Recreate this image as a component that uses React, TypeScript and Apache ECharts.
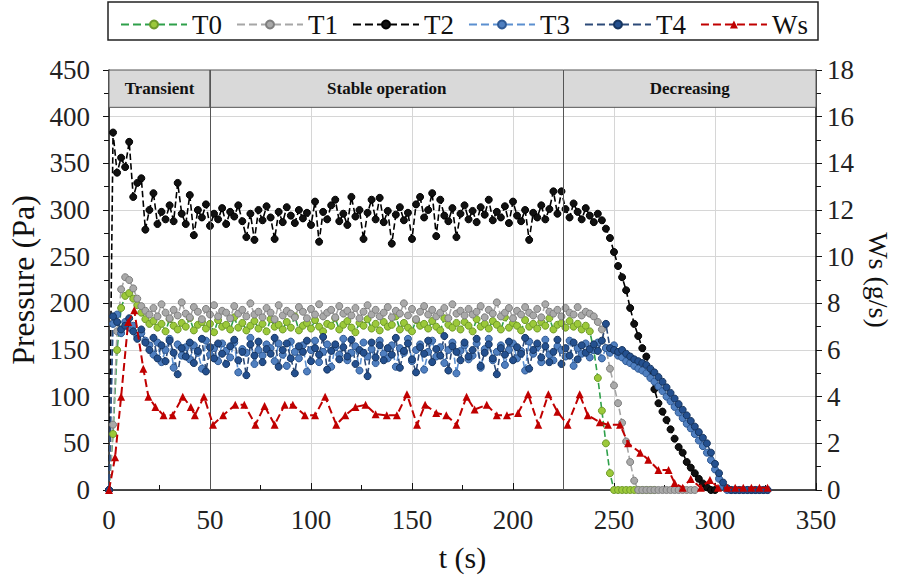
import React, { useEffect, useRef } from "react";
import * as echarts from "echarts";

// sampling step of the pressure records (s)
const STEP = 2;

// T0 pressure (Pa), one value every 2 s from t = 0
const t0Values = [
  0, 60, 150, 195, 208, 211, 205, 198, 190, 183,
  178, 181, 174, 178, 170, 183, 176, 172, 179, 175,
  184, 171, 177, 180, 173, 178, 169, 182, 175, 177,
  172, 185, 174, 179, 171, 176, 181, 173, 178, 170,
  183, 175, 177, 172, 180, 174, 186, 171, 176, 179,
  173, 182, 175, 170, 178, 176, 184, 172, 177, 181,
  174, 169, 179, 176, 183, 173, 178, 171, 180, 175,
  177, 186, 172, 179, 174, 170, 182, 176, 178, 173,
  181, 175, 171, 184, 177, 174, 179, 172, 180, 176,
  170, 183, 175, 178, 173, 181, 177, 172, 185, 174,
  179, 176, 171, 182, 175, 178, 173, 180, 176, 184,
  172, 177, 179, 174, 181, 175, 178, 172, 176, 170,
  150, 120, 85, 50, 18, 0, 0, 0, 0, 0,
  0, 0, 0, 0, 0, 0,
];

// T1 pressure (Pa)
const t1Values = [
  0, 70, 170, 215, 228, 225, 216, 205, 197, 192,
  188, 195, 186, 199, 190, 184, 193, 187, 201, 189,
  185, 196, 191, 183, 194, 188, 198, 186, 192, 190,
  184, 197, 189, 193, 186, 200, 188, 191, 185, 195,
  190, 183, 198, 187, 192, 189, 185, 196, 191, 184,
  194, 188, 199, 186, 190, 193, 185, 197, 189, 192,
  187, 195, 184, 191, 198, 188, 193, 186, 190, 196,
  185, 192, 189, 200, 187, 194, 183, 191, 197, 188,
  193, 186, 190, 195, 184, 199, 189, 192, 187, 194,
  188, 191, 197, 185, 193, 189, 201, 186, 190, 195,
  184, 192, 188, 196, 190, 187, 194, 185, 199, 191,
  189, 193, 186, 195, 190, 188, 196, 187, 191, 189,
  186, 180, 172, 152, 130, 112, 93, 72, 52, 30,
  10, 0, 0, 0, 0, 0, 0, 0, 0, 0,
  0, 0, 0, 0, 0, 0,
];

// T2 pressure (Pa)
const t2Values = [
  0, 383, 340, 356, 346, 373, 314, 329, 334, 279,
  300, 318, 285, 298, 290, 305, 288, 329, 296, 285,
  316, 273, 300, 292, 306, 283, 296, 290, 302, 285,
  298, 293, 305, 288, 271, 296, 268, 300, 289, 304,
  292, 269, 298, 287, 303, 294, 286, 300, 291, 297,
  284, 309, 266, 298, 290, 305, 311, 288, 296, 284,
  314, 293, 300, 269, 297, 311, 290, 313, 287, 299,
  264, 295, 303, 289, 297, 269, 306, 314, 292, 300,
  318, 272, 311, 294, 288, 302, 271, 296, 305, 290,
  299, 287, 303, 295, 311, 289, 298, 292, 304, 286,
  309, 294, 288, 300, 268, 297, 292, 305, 290, 301,
  320, 296, 320, 301, 292, 307, 298, 290, 302, 294,
  287, 296, 289, 280, 270, 255, 240, 228, 214, 195,
  178, 165, 152, 143, 128, 108, 93, 84, 75, 65,
  55, 46, 40, 30, 24, 18, 12, 7, 3, 0,
  0,
];

// T3 pressure (Pa)
const t3Values = [
  0, 178, 188, 168, 180, 174, 176, 165, 168, 160,
  155, 145, 158, 137, 150, 162, 131, 156, 144, 153,
  140, 155, 147, 130, 160, 145, 152, 138, 157, 149,
  142, 158, 126, 151, 147, 163, 135, 150, 144, 156,
  152, 138, 157, 145, 133, 159, 148, 141, 155, 127,
  150, 160, 137, 148, 156, 132, 153, 145, 162, 139,
  147, 154, 128, 158, 143, 151, 136, 160, 146, 141,
  155, 132, 152, 147, 162, 138, 150, 156, 129, 148,
  160, 143, 153, 136, 150, 158, 125, 149, 155, 140,
  144, 157, 131, 151, 162, 139, 148, 155, 134, 150,
  157, 141, 149, 128, 159, 146, 153, 137, 161, 145,
  139, 154, 150, 143, 160, 133, 152, 146, 157, 142,
  150, 158, 141, 152, 147, 155, 144, 142, 138, 136,
  133, 130, 128, 125, 120, 116, 111, 106, 100, 95,
  89, 83, 77, 71, 66, 60, 53, 47, 40, 32,
  22, 12, 4, 0, 0, 0, 0, 0, 0, 0,
  0, 0, 0, 0,
];

// T4 pressure (Pa)
const t4Values = [
  0, 186, 180, 172, 176, 184, 170, 162, 172, 158,
  150, 163, 141, 155, 138, 160, 147, 124, 152, 143,
  158, 136, 149, 162, 127, 153, 141, 157, 146, 135,
  154, 161, 139, 148, 123, 156, 144, 159, 137, 151,
  146, 163, 132, 150, 157, 141, 125, 154, 148, 160,
  138, 152, 145, 164, 129, 149, 156, 140, 153, 143,
  161, 135, 150, 147, 122, 158, 142, 155, 139, 152,
  145, 163, 131, 149, 157, 140, 126, 153, 146, 160,
  137, 151, 144, 165, 128, 154, 148, 139, 158, 143,
  150, 162, 133, 147, 156, 141, 124, 152, 145, 159,
  139, 153, 146, 163, 130, 150, 157, 142, 154, 137,
  148, 161, 135, 152, 144, 158, 140, 155, 147, 151,
  156, 149, 160, 178, 152, 150, 148, 150, 146, 143,
  140, 138, 136, 134, 130, 126, 121, 116, 110, 104,
  98, 92, 86, 80, 74, 68, 62, 56, 50, 40,
  28, 18, 8, 2, 0, 0, 0, 0, 0, 0,
  0, 0, 0, 0,
];

// Ws mass flow (g/s): sample times and values
const wsTime = [
  0, 3, 6, 9.5, 12.5, 17, 19.5, 23, 27, 31.5,
  36.5, 40.5, 42.5, 47, 51.5, 56.5, 62.5, 67, 72.5, 77,
  82, 87, 91, 97, 102, 107, 112.5, 117, 122, 127,
  132, 137.5, 142.5, 147.5, 152.5, 156.5, 162, 167, 172, 177,
  181, 187, 192, 197, 202.5, 207.5, 212.5, 217.5, 222, 227,
  233, 237, 243, 247, 253, 257, 263, 267, 272, 277,
  280, 284, 288, 293, 297.5, 301.5, 306, 310, 314, 318,
  322, 326,
];
const wsValues = [
  0, 1.4, 4.0, 7.2, 7.7, 5.2, 4.0, 3.56, 3.2, 3.2,
  4.0, 3.56, 3.2, 4.0, 2.8, 3.2, 3.65, 3.65, 2.8, 3.6,
  2.8, 3.65, 3.65, 3.2, 3.2, 4.0, 2.8, 3.2, 3.56, 3.65,
  3.25, 3.2, 3.2, 4.1, 2.8, 3.65, 3.3, 3.2, 2.8, 4.0,
  3.45, 3.65, 3.2, 3.2, 3.3, 4.1, 2.8, 4.1, 3.35, 2.8,
  4.1, 3.2, 2.9, 2.8, 2.8, 2.0, 1.6, 1.3, 0.86, 0.86,
  0.3, 0.1, 0.47, 0.1, 0.43, 0.1, 0.1, 0.1, 0.1, 0.1,
  0.1, 0.1,
];

// phase band
const phaseNames = ["Transient", "Stable operation", "Decreasing"];
const phaseBounds = [0, 50, 225, 350];
const xTicks = { min: 0, max: 350, interval: 50 };
const yLeft = { min: 0, max: 450, interval: 50 };
const yRight = { min: 0, max: 18, interval: 2 };

const FONT = "'Liberation Serif', serif";

const toPairs = (vals: number[]) => vals.map((v, i) => [i * STEP, v]);

export default function App() {
  const ref = useRef<HTMLDivElement>(null);

  useEffect(() => {
    if (!ref.current) return;
    const chart = echarts.init(ref.current, undefined, { renderer: "svg" });

    const mkPressure = (
      name: string,
      vals: number[],
      lineColor: string,
      dotColor: string,
      dotBorder: string,
      extra: any = {}
    ) => ({
      name,
      type: "line",
      yAxisIndex: 0,
      data: toPairs(vals),
      symbol: "circle",
      symbolSize: 7,
      showSymbol: true,
      lineStyle: { color: lineColor, width: 1.6, type: "dashed" },
      itemStyle: { color: dotColor, borderColor: dotBorder, borderWidth: 1 },
      emphasis: { disabled: true },
      ...extra,
    });

    const areas = phaseNames.map((n, i) => [
      { name: n, xAxis: phaseBounds[i], yAxis: 410 },
      { xAxis: phaseBounds[i + 1], yAxis: 450 },
    ]);

    const axisText = { fontFamily: FONT, fontSize: 27, color: "#222" };

    chart.setOption({
      animation: false,
      backgroundColor: "#fff",
      textStyle: { fontFamily: FONT },
      grid: { left: 109, right: 81, top: 70, bottom: 87, outerBoundsMode: "none", containLabel: false },
      graphic: [
        {
          type: "rect",
          shape: { x: 108, y: 2, width: 710, height: 38 },
          style: { fill: "none", stroke: "#222", lineWidth: 1.5 },
          silent: true,
        },
      ],
      legend: {
        left: 115,
        top: 6,
        itemWidth: 66,
        itemHeight: 10,
        itemGap: 14,
        textStyle: { fontFamily: FONT, fontSize: 27, color: "#111" },
        data: ["T0", "T1", "T2", "T3", "T4", "Ws"],
      },
      xAxis: {
        type: "value",
        ...xTicks,
        name: "t (s)",
        nameLocation: "middle",
        nameGap: 52,
        nameTextStyle: { fontFamily: FONT, fontSize: 30, color: "#111" },
        axisLine: { show: true, lineStyle: { color: "#111", width: 1.5 } },
        axisTick: { show: true, inside: true, length: 7, lineStyle: { color: "#111" } },
        minorTick: { show: true, splitNumber: 2, length: 5, lineStyle: { color: "#111" } },
        axisLabel: { ...axisText, margin: 16 },
        splitLine: { show: true, lineStyle: { color: "#d6d6d6", width: 1 } },
      },
      yAxis: [
        {
          type: "value",
          ...yLeft,
          name: "Pressure (Pa)",
          nameLocation: "middle",
          nameGap: 70,
          nameTextStyle: { fontFamily: FONT, fontSize: 32, color: "#111" },
          axisLine: { show: true, lineStyle: { color: "#111", width: 1.5 } },
          axisTick: { show: true, inside: false, length: 6, lineStyle: { color: "#111" } },
          minorTick: { show: true, splitNumber: 2, length: 5, lineStyle: { color: "#111" } },
          axisLabel: { ...axisText, margin: 19 },
          splitLine: { show: true, lineStyle: { color: "#d6d6d6", width: 1 } },
        },
        {
          type: "value",
          ...yRight,
          position: "right",
          name: "Ws (g/s)",
          nameLocation: "middle",
          nameGap: 44,
          nameRotate: -90,
          nameTextStyle: { fontFamily: FONT, fontSize: 28, color: "#111" },
          axisLine: { show: true, lineStyle: { color: "#111", width: 1.5 } },
          axisTick: { show: true, inside: false, length: 6, lineStyle: { color: "#111" } },
          minorTick: { show: true, splitNumber: 2, length: 5, lineStyle: { color: "#111" } },
          axisLabel: { ...axisText, margin: 11 },
          splitLine: { show: false },
        },
      ],
      series: [
        mkPressure("T0", t0Values, "#2ea04a", "#9cc93a", "#6f9a2a", {
          markArea: {
            silent: true,
            itemStyle: { color: "#d9d9d9", borderColor: "#555", borderWidth: 1 },
            label: {
              show: true,
              position: "inside",
              fontFamily: FONT,
              fontWeight: "bold",
              fontSize: 17,
              color: "#111",
            },
            data: areas,
          },
          markLine: {
            silent: true,
            symbol: "none",
            label: { show: false },
            lineStyle: { color: "#555", width: 1, type: "solid" },
            data: [{ xAxis: phaseBounds[1] }, { xAxis: phaseBounds[2] }],
          },
        }),
        mkPressure("T1", t1Values, "#a6a6a6", "#a9a9a9", "#7f7f7f"),
        mkPressure("T2", t2Values, "#000000", "#111111", "#000000"),
        mkPressure("T3", t3Values, "#5b8fd0", "#4f7fc0", "#2f5a95"),
        mkPressure("T4", t4Values, "#2c4a78", "#24508f", "#163560"),
        {
          name: "Ws",
          type: "line",
          yAxisIndex: 1,
          data: wsTime.map((t, i) => [t, wsValues[i]]),
          symbol: "triangle",
          symbolSize: 8,
          lineStyle: { color: "#c00000", width: 2, type: "dashed" },
          itemStyle: { color: "#c00000" },
          emphasis: { disabled: true },
          z: 5,
        },
      ],
    });

    return () => chart.dispose();
  }, []);

  return (
    <div
      ref={ref}
      style={{ position: "fixed", left: 0, top: 0, width: 897, height: 577, background: "#fff" }}
    />
  );
}
